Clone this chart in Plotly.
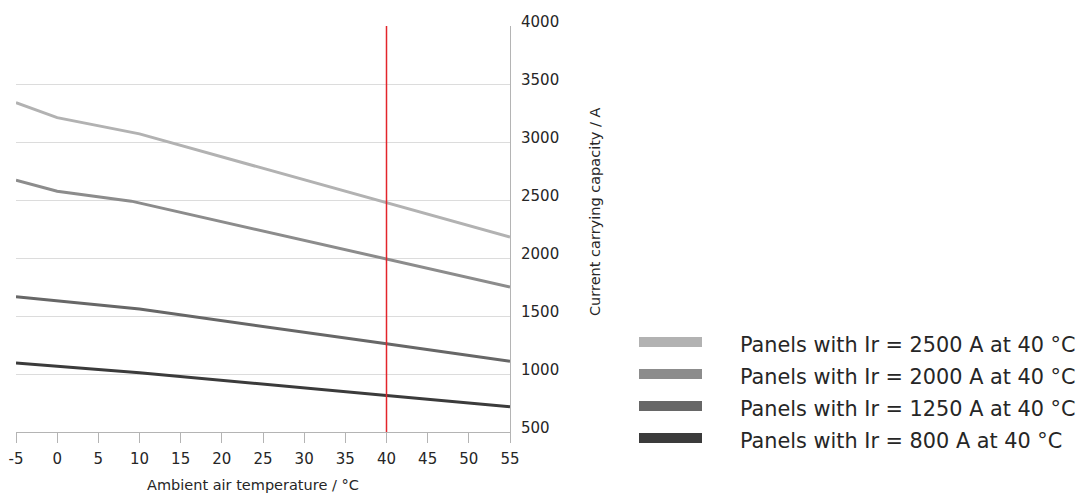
import plotly.graph_objects as go

# temperatures (°C) at which the curves change slope
temps = [-5, 0, 10, 40, 55]
temps_2000 = [-5, 0, 9, 40, 55]

cap_2500 = [3340, 3210, 3070, 2480, 2180]
cap_2000 = [2670, 2575, 2490, 1990, 1750]
cap_1250 = [1665, 1630, 1560, 1260, 1110]
cap_800 = [1095, 1065, 1010, 815, 718]

labels = [
    "Panels with Ir = 2500 A at 40 °C",
    "Panels with Ir = 2000 A at 40 °C",
    "Panels with Ir = 1250 A at 40 °C",
    "Panels with Ir = 800 A at 40 °C",
]
colors = ["#b2b2b2", "#8c8c8c", "#676767", "#3b3b3b"]

ref_temp = 40
x_ticks = list(range(-5, 60, 5))
x_ticktext = [str(v) for v in x_ticks]  # plain hyphen for -5
y_ticks = list(range(500, 4500, 500))

FONT = "DejaVu Sans"

# the page body adds an 8px margin, so the figure is drawn 8px in
PAGE = 8
W, H = 1087 - PAGE, 495 - PAGE
# plot area in page pixels
L, R, T, B = 16, 510, 26, 432


def px_x(px):
    return (px - L) / (R - L)


def px_y(py):
    return (B - py) / (B - T)


fig = go.Figure()

series = [(temps, cap_2500), (temps_2000, cap_2000), (temps, cap_1250), (temps, cap_800)]
for (xs, ys), name, col in zip(series, labels, colors):
    fig.add_trace(go.Scatter(
        x=xs, y=ys, mode="lines", name=name,
        line=dict(color=col, width=3),
        showlegend=False,
    ))

# 40 °C reference line
fig.add_vline(x=ref_temp, line_color="#e3242b", line_width=1.5, layer="above")

# legend drawn by hand: long flat swatches + text
for i, (name, col) in enumerate(zip(labels, colors)):
    cy = 342 + 32 * i
    fig.add_shape(
        type="rect", xref="paper", yref="paper",
        x0=px_x(639), x1=px_x(702), y0=px_y(cy + 5), y1=px_y(cy - 5),
        fillcolor=col, line_width=0,
    )
    fig.add_annotation(
        xref="paper", yref="paper", x=px_x(738), y=px_y(cy + 3),
        text=name, showarrow=False, xanchor="left", yanchor="middle",
        font=dict(family=FONT, size=20.8, color="#262626"),
    )

# axis titles
fig.add_annotation(
    xref="paper", yref="paper", x=px_x(253), y=px_y(485),
    text="Ambient air temperature / °C", showarrow=False,
    xanchor="center", yanchor="middle",
    font=dict(family=FONT, size=14.5, color="#262626"),
)
fig.add_annotation(
    xref="paper", yref="paper", x=px_x(595), y=px_y(212),
    text="Current carrying capacity / A", showarrow=False, textangle=-90,
    xanchor="center", yanchor="middle",
    font=dict(family=FONT, size=14.5, color="#262626"),
)

fig.update_layout(
    width=W, height=H,
    margin=dict(l=L - PAGE, r=W - (R - PAGE), t=T - PAGE, b=H - (B - PAGE)),
    paper_bgcolor="white", plot_bgcolor="white",
    font=dict(family=FONT, size=15, color="#262626"),
    showlegend=False,
)

fig.update_xaxes(
    range=[-5, 55], tickvals=x_ticks, ticktext=x_ticktext,
    showgrid=False, zeroline=False, automargin=False,
    showline=True, linecolor="#b4b4b4", linewidth=1,
    ticks="outside", ticklen=10, tickcolor="#b4b4b4",
    ticklabelstandoff=3,
    tickfont=dict(family=FONT, size=15),
)
fig.update_yaxes(
    range=[500, 4000], tickvals=y_ticks, side="right",
    showgrid=True, gridcolor="#dcdcdc", gridwidth=1, zeroline=False,
    automargin=False,
    showline=True, linecolor="#b4b4b4", linewidth=1,
    ticks="", ticklabelstandoff=7, ticklabelshift=-4,
    tickfont=dict(family=FONT, size=15),
)

fig.write_html("out.html")
